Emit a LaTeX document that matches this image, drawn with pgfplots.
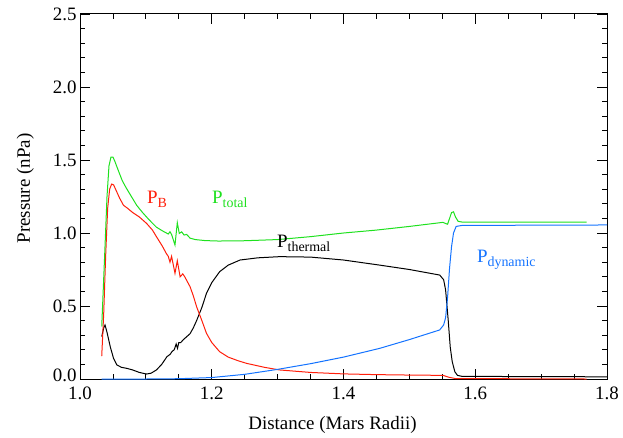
\documentclass[border=0pt]{standalone}
\usepackage{pgfplots}
\pgfplotsset{compat=1.18}
\usepackage{fontspec}
\setmainfont{Liberation Serif}
\definecolor{cgreen}{RGB}{30,225,30}
\definecolor{cred}{RGB}{255,30,10}
\definecolor{cblue}{RGB}{20,115,255}
\newcommand{\lbl}[2]{P{\fontsize{14}{14}\selectfont\raisebox{-4.5bp}{#2}}}
\begin{document}
\begin{tikzpicture}
\begin{axis}[name=ax,
  scale only axis, width=527bp, height=365bp,
  xmin=1.0, xmax=1.8, ymin=0, ymax=2.5,
  xtick={1.0,1.2,1.4,1.6,1.8}, ytick={0,0.5,1.0,1.5,2.0,2.5},
  xticklabels={1.0,1.2,1.4,1.6,1.8},
  yticklabels={\raisebox{7bp}{0.0},0.5,1.0,1.5,2.0,\raisebox{-7bp}{2.5}},
  minor x tick num=3, minor y tick num=4,
  tick align=inside, major tick length=10bp, minor tick length=5bp,
  tick style={black, line width=0.8bp},
  axis line style={line width=1bp},
  ticklabel style={font=\fontsize{19}{22}\selectfont},
  xticklabel style={yshift=-4bp},
  label style={font=\fontsize{19}{22}\selectfont},
  xlabel={Distance (Mars Radii)}, ylabel={Pressure (nPa)},
  xlabel style={yshift=-10bp, xshift=-11bp},
  ylabel style={yshift=12bp, xshift=8bp},
  every axis plot/.append style={line width=1bp},
  clip=false,
]
% P_thermal
\addplot[black] coordinates {
(1.033,0.29)(1.036,0.35)(1.038,0.37)(1.041,0.32)(1.046,0.22)(1.051,0.14)(1.056,0.096)
(1.063,0.08)(1.071,0.073)(1.080,0.062)(1.090,0.045)(1.101,0.034)(1.108,0.04)(1.116,0.062)
(1.124,0.10)(1.132,0.153)(1.137,0.17)(1.140,0.19)(1.143,0.20)(1.146,0.24)(1.148,0.21)
(1.150,0.25)(1.153,0.25)(1.157,0.27)(1.162,0.29)(1.167,0.31)(1.172,0.35)(1.177,0.40)
(1.185,0.49)(1.192,0.587)(1.200,0.66)(1.212,0.735)(1.225,0.78)(1.243,0.815)(1.270,0.83)
(1.303,0.838)(1.350,0.835)(1.400,0.815)(1.455,0.78)(1.500,0.75)(1.546,0.712)(1.552,0.68)
(1.555,0.61)(1.559,0.40)(1.562,0.22)(1.565,0.12)(1.569,0.05)(1.573,0.025)(1.580,0.018)(1.800,0.015)
};
% P_B
\addplot[cred] coordinates {
(1.033,0.157)(1.036,0.45)(1.039,0.85)(1.042,1.17)(1.045,1.30)(1.048,1.335)(1.051,1.33)
(1.055,1.29)(1.060,1.24)(1.066,1.19)(1.072,1.17)(1.080,1.14)(1.090,1.11)(1.101,1.066)
(1.110,1.02)(1.116,0.975)(1.125,0.91)(1.131,0.86)(1.134,0.84)(1.1366,0.80)(1.139,0.84)
(1.1442,0.724)(1.1477,0.81)(1.152,0.70)(1.156,0.72)(1.159,0.70)(1.167,0.633)(1.172,0.57)
(1.177,0.495)(1.185,0.40)(1.192,0.313)(1.200,0.25)(1.212,0.187)(1.225,0.15)(1.240,0.125)
(1.253,0.107)(1.280,0.08)(1.303,0.062)(1.350,0.045)(1.400,0.035)(1.450,0.03)(1.500,0.027)
(1.551,0.025)(1.560,0.012)(1.570,0.003)(1.769,0.0)
};
% P_total
\addplot[cgreen] coordinates {
(1.033,0.36)(1.037,0.80)(1.041,1.25)(1.044,1.46)(1.047,1.52)(1.050,1.52)(1.053,1.49)
(1.058,1.43)(1.064,1.36)(1.070,1.31)(1.078,1.25)(1.086,1.19)(1.095,1.14)(1.105,1.09)
(1.116,1.04)(1.125,1.015)(1.134,0.993)(1.1366,1.009)(1.139,0.99)(1.1442,0.918)(1.1477,1.071)
(1.1507,0.997)(1.1543,1.008)(1.158,0.986)(1.162,0.99)(1.167,0.965)(1.175,0.955)(1.190,0.948)
(1.210,0.945)(1.250,0.947)(1.300,0.955)(1.350,0.975)(1.400,1.0)(1.450,1.02)(1.500,1.045)
(1.551,1.073)(1.555,1.065)(1.558,1.06)(1.561,1.10)(1.564,1.14)(1.567,1.145)(1.570,1.11)
(1.574,1.08)(1.580,1.075)(1.650,1.075)(1.769,1.075)
};
% P_dynamic
\addplot[cblue] coordinates {
(1.033,0.0)(1.100,0.0)(1.150,0.002)(1.200,0.01)(1.250,0.032)(1.300,0.066)(1.350,0.105)
(1.400,0.15)(1.455,0.21)(1.500,0.27)(1.546,0.336)(1.552,0.37)(1.555,0.42)(1.558,0.56)
(1.561,0.76)(1.564,0.906)(1.567,1.0)(1.571,1.045)(1.580,1.052)(1.800,1.055)
};
\node[cred, anchor=base west, inner sep=0, font=\fontsize{19}{22}\selectfont] at (axis cs:1.1017,1.205) {\lbl{}{B}};
\node[cgreen, anchor=base west, inner sep=0, font=\fontsize{19}{22}\selectfont] at (axis cs:1.2003,1.205) {\lbl{}{total}};
\node[black, anchor=base west, inner sep=0, font=\fontsize{19}{22}\selectfont] at (axis cs:1.299,0.904) {\lbl{}{thermal}};
\node[cblue, anchor=base west, inner sep=0, font=\fontsize{19}{22}\selectfont] at (axis cs:1.6024,0.801) {\lbl{}{dynamic}};
\end{axis}
\path ([xshift=-80bp,yshift=-58bp]ax.south west) rectangle ([xshift=16bp,yshift=14bp]ax.north east);
\end{tikzpicture}
\end{document}
